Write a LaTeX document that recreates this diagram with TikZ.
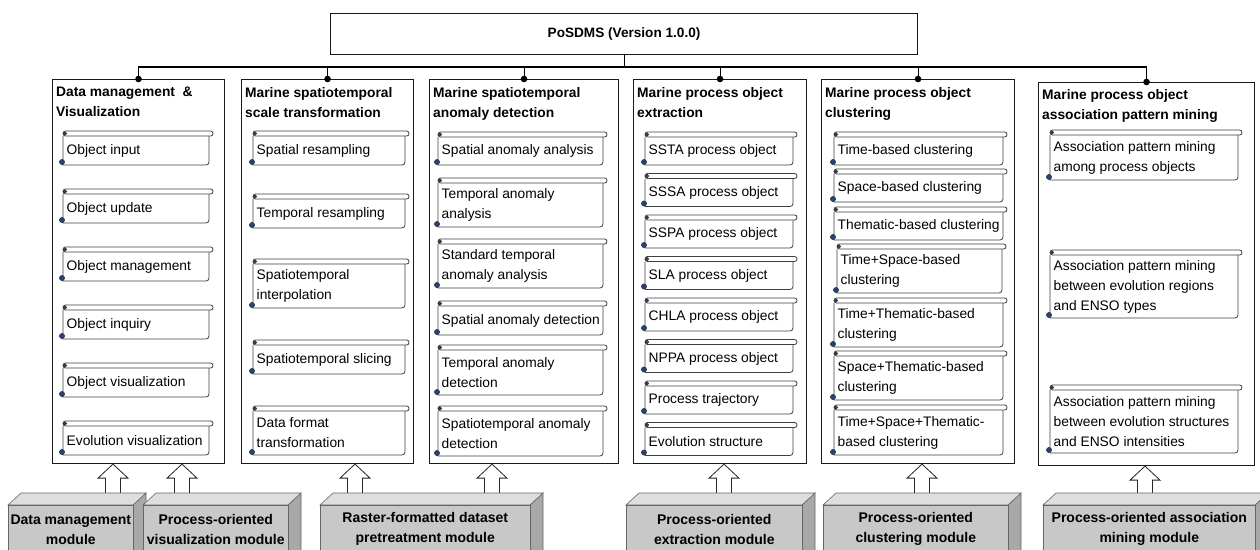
\documentclass[tikz,border=0pt]{standalone}
\usepackage{fontspec}
\setmainfont{Liberation Sans}
\usetikzlibrary{calc}

\definecolor{curlblue}{RGB}{38,66,130}
\definecolor{frontgray}{RGB}{200,200,200}
\definecolor{topgray}{RGB}{222,222,222}
\definecolor{sidegray}{RGB}{168,168,168}

\tikzset{
  x=1pt, y=-1pt,
  colbox/.style={draw=black!90, line width=1.1pt, fill=white, inner sep=0pt, anchor=north west},
  topbox/.style={draw=black!90, line width=1.1pt, fill=white, inner sep=0pt, anchor=north west,
    font=\bfseries\fontsize{13.6}{16}\selectfont},
  conn/.style={draw=black, line width=1.1pt},
  ttl/.style={anchor=north west, inner sep=0pt, align=left, font=\bfseries\fontsize{13.8}{20}\selectfont},
  scrl/.style={draw=black!75, line width=0.8pt, fill=white},
  curl/.style={draw=black!80, fill=curlblue, line width=0.5pt},
  stxt/.style={anchor=west, inner sep=0pt, align=left, font=\fontsize{13.8}{20}\selectfont},
  blockarr/.style={draw=black!85, line width=0.8pt, fill=white},
  modfront/.style={draw=black!60, line width=0.6pt, fill=frontgray, inner sep=0pt, anchor=north west,
    align=center, minimum height=48pt, font=\bfseries\fontsize{14}{20}\selectfont},
  modtop/.style={draw=black!60, line width=0.6pt, fill=topgray},
  modside/.style={draw=black!60, line width=0.6pt, fill=sidegray}
}

% scroll-shaped item: name, left x, top y, right x, bottom y, text
\newcommand\scrollbox[6]{%
  \draw[scrl] (#4,#3+5) -- (#4,#5-3) arc[start angle=0,end angle=-90,radius=3pt] -- (#2,#5) -- (#2,#3+5);
  \draw[scrl, rounded corners=2.4pt] (#2,#3) rectangle (#4+4,#3+5);
  \draw[curl] (#2+2,#3+2.5) circle (1.8pt);
  \draw[curl] (#2-1,#5-3) circle (2.6pt);
  \node[stxt] (#1) at (#2+3.5,{(#3+5+#5)/2}) {#6};
}

% 3-D module block: name, left x, front width, text
\newcommand\module[4]{%
  \draw[modside] (#2+#3,505) -- (#2+#3+13,493) -- (#2+#3+13,560) -- (#2+#3,560) -- cycle;
  \draw[modtop] (#2,505) -- (#2+13,493) -- (#2+#3+13,493) -- (#2+#3,505) -- cycle;
  \node[modfront, minimum width=#3pt] (#1) at (#2,505) {#4};
}

% hollow upward block arrow: x position, target column, source module
\newcommand\blockup[3]{%
  \coordinate (tip) at (#1,0 |- #2.south);
  \draw[blockarr] (tip) -- ++(15,14) -- ++(-7.5,0) -- (#1+7.5,0 |- #3.north)
    -- (#1-7.5,0 |- #3.north) -- ($(tip)+(-7.5,14)$) -- ++(-7.5,0) -- cycle;
}

\begin{document}
\begin{tikzpicture}
\useasboundingbox (0,0) rectangle (1260,549);
\clip (0,0) rectangle (1260,549);
\fill[white] (0,0) rectangle (1260,549);

% root box
\node[topbox, minimum width=587pt, minimum height=41pt] (top) at (330,13) {PoSDMS (Version 1.0.0)};

% functional columns
\node[colbox, minimum width=172pt, minimum height=384pt] (c1) at (52,79) {};
\node[colbox, minimum width=172pt, minimum height=384pt] (c2) at (241,79) {};
\node[colbox, minimum width=189pt, minimum height=384pt] (c3) at (429,79) {};
\node[colbox, minimum width=173pt, minimum height=384pt] (c4) at (633,79) {};
\node[colbox, minimum width=193pt, minimum height=384pt] (c5) at (821,79) {};
\node[colbox, minimum width=216pt, minimum height=383pt] (c6) at (1038,82) {};

% tree connectors
\coordinate (bus) at (0,67);
\draw[conn] (top.south) -- (top.south |- bus);
\draw[conn] (c1.north) -- (c1.north |- bus) -- (c6.north |- bus) -- (c6.north);
\foreach \c in {c2,c3,c4,c5} \draw[conn] (\c.north) -- (\c.north |- bus);
\foreach \c in {c1,c2,c3,c4,c5,c6} \fill (\c.north) circle (3.3pt);

% column titles
\node[ttl] (t1) at (56,87) {Data management\ \ \&\\Visualization};
\node[ttl] (t2) at (245,87) {Marine spatiotemporal\\scale transformation};
\node[ttl] (t3) at (433,87) {Marine spatiotemporal\\anomaly detection};
\node[ttl] (t4) at (637,87) {Marine process object\\extraction};
\node[ttl] (t5) at (825,87) {Marine process object\\clustering};
\node[ttl] (t6) at (1042,89) {Marine process object\\association pattern mining};

% column 1
\scrollbox{s11}{63}{131}{209}{165}{Object input}
\scrollbox{s12}{63}{189}{209}{223}{Object update}
\scrollbox{s13}{63}{247}{209}{281}{Object management}
\scrollbox{s14}{63}{305}{209}{339}{Object inquiry}
\scrollbox{s15}{63}{363}{209}{397}{Object visualization}
\scrollbox{s16}{63}{421}{209}{455}{Evolution visualization}

% column 2
\scrollbox{s21}{253}{131}{405}{165}{Spatial resampling}
\scrollbox{s22}{253}{194}{405}{228}{Temporal resampling}
\scrollbox{s23}{253}{259}{405}{308}{Spatiotemporal\\interpolation}
\scrollbox{s24}{253}{340}{405}{374}{Spatiotemporal slicing}
\scrollbox{s25}{253}{406}{405}{455}{Data format\\transformation}

% column 3
\scrollbox{s31}{438}{132}{603}{165}{Spatial anomaly analysis}
\scrollbox{s32}{438}{178}{603}{227}{Temporal anomaly\\analysis}
\scrollbox{s33}{438}{239}{603}{288}{Standard temporal\\anomaly analysis}
\scrollbox{s34}{438}{301}{603}{335}{Spatial anomaly detection}
\scrollbox{s35}{438}{345}{603}{395}{Temporal anomaly\\detection}
\scrollbox{s36}{438}{406}{603}{456}{Spatiotemporal anomaly\\detection}

% column 4
\scrollbox{s41}{645}{132}{793}{165}{SSTA process object}
\scrollbox{s42}{645}{173.5}{793}{206.5}{SSSA process object}
\scrollbox{s43}{645}{215}{793}{248}{SSPA process object}
\scrollbox{s44}{645}{256.5}{793}{289.5}{SLA process object}
\scrollbox{s45}{645}{298}{793}{331}{CHLA process object}
\scrollbox{s46}{645}{339.5}{793}{372.5}{NPPA process object}
\scrollbox{s47}{645}{381}{793}{414}{Process trajectory}
\scrollbox{s48}{645}{422.5}{793}{455.5}{Evolution structure}

% column 5
\scrollbox{s51}{834}{132}{1003}{165}{Time-based clustering}
\scrollbox{s52}{834}{169}{1003}{202}{Space-based clustering}
\scrollbox{s53}{834}{207}{1003}{240}{Thematic-based clustering}
\scrollbox{s54}{837}{244}{1002}{293}{Time+Space-based\\clustering}
\scrollbox{s55}{834}{298}{1003}{347}{Time+Thematic-based\\clustering}
\scrollbox{s56}{834}{351}{1003}{400}{Space+Thematic-based\\clustering}
\scrollbox{s57}{834}{405}{1003}{455}{Time+Space+Thematic-\\based clustering}

% column 6
\scrollbox{s61}{1050}{130}{1238}{180}{Association pattern mining\\among process objects}
\scrollbox{s62}{1050}{250}{1238}{318}{Association pattern mining\\between evolution regions\\and ENSO types}
\scrollbox{s63}{1050}{385}{1238}{453}{Association pattern mining\\between evolution structures\\and ENSO intensities}

% module footprints, used as arrow anchors
\node[inner sep=0pt, minimum width=125pt, minimum height=48pt, anchor=north west] (m1) at (8,505) {};
\node[inner sep=0pt, minimum width=145pt, minimum height=48pt, anchor=north west] (m2) at (143,505) {};
\node[inner sep=0pt, minimum width=210pt, minimum height=48pt, anchor=north west] (m3) at (320,505) {};
\node[inner sep=0pt, minimum width=176pt, minimum height=48pt, anchor=north west] (m4) at (626,505) {};
\node[inner sep=0pt, minimum width=185pt, minimum height=48pt, anchor=north west] (m5) at (823,505) {};
\node[inner sep=0pt, minimum width=212pt, minimum height=48pt, anchor=north west] (m6) at (1043,505) {};

% arrows from modules up to columns
\blockup{113}{c1}{m1}
\blockup{182}{c1}{m2}
\blockup{355}{c2}{m3}
\blockup{492}{c3}{m3}
\blockup{724}{c4}{m4}
\blockup{922}{c5}{m5}
\blockup{1145}{c6}{m6}

% module blocks
\module{M1}{8}{125}{Data management\\module}
\module{M2}{143}{145}{Process-oriented\\visualization module}
\module{M3}{320}{210}{Raster-formatted dataset\\pretreatment module}
\module{M4}{626}{176}{Process-oriented\\extraction module}
\module{M5}{823}{185}{Process-oriented\\clustering module}
\module{M6}{1043}{212}{Process-oriented association\\mining module}
\end{tikzpicture}
\end{document}
